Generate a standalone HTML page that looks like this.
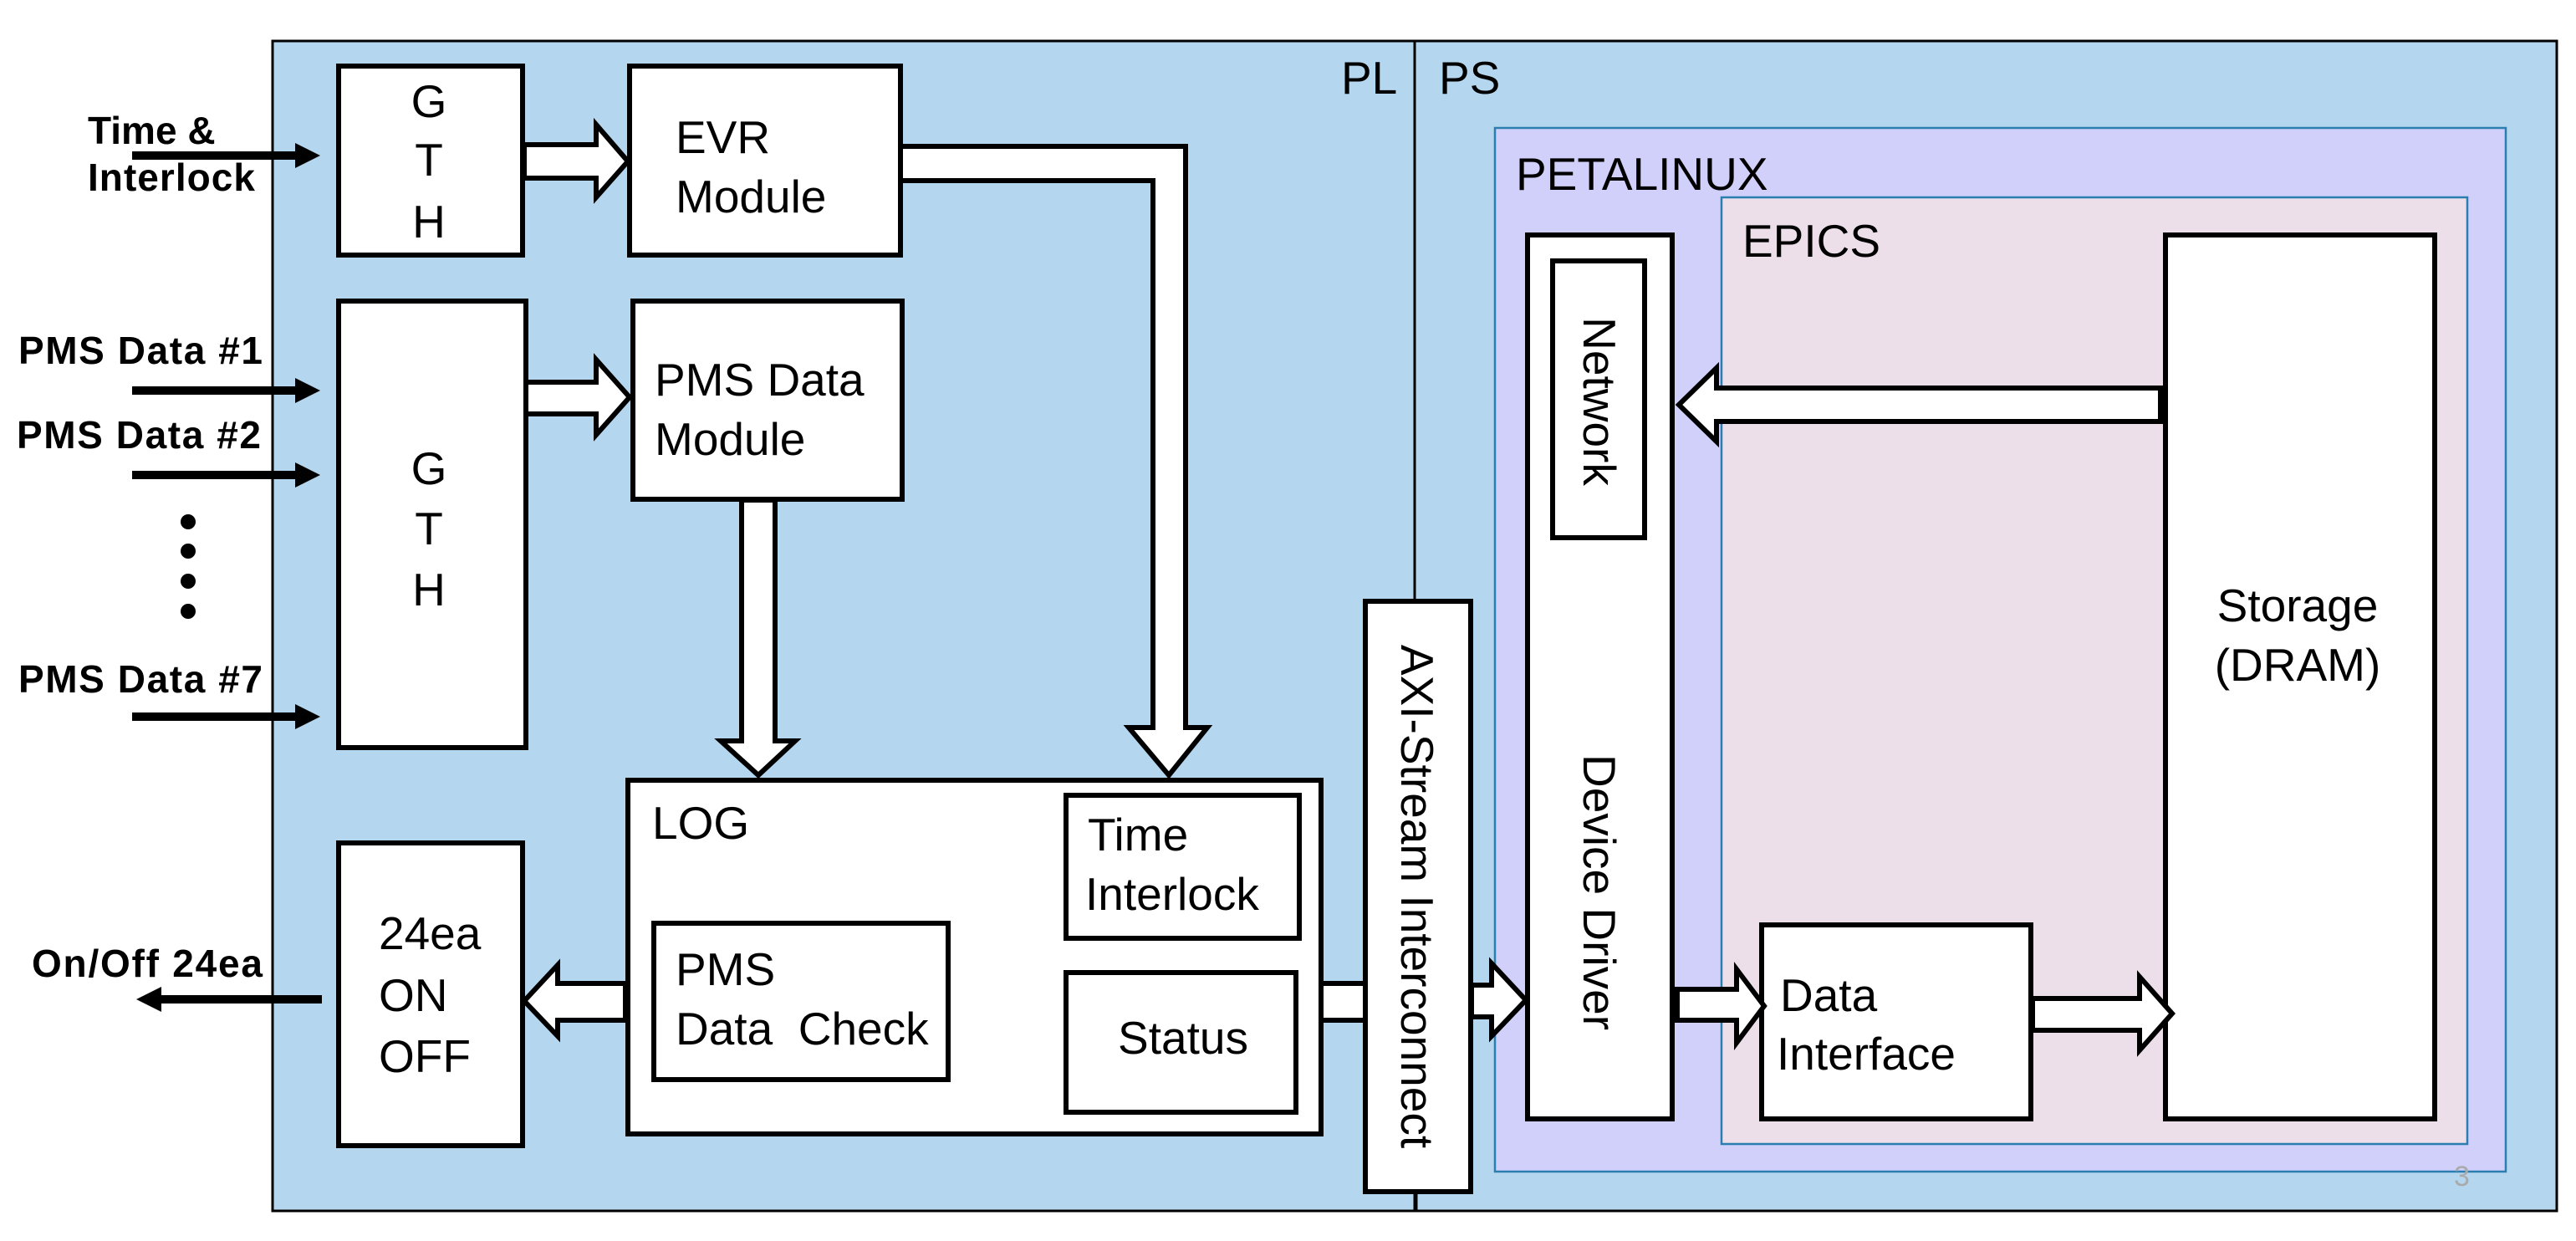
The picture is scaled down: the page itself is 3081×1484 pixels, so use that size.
<!DOCTYPE html>
<html><head><meta charset="utf-8"><style>
html,body{margin:0;padding:0;background:#fff;}
svg{display:block;}
text{font-family:"Liberation Sans",sans-serif;fill:#000;}
.b{font-weight:bold;font-size:46px;}
.t{font-size:55px;}
</style></head><body>
<svg width="3081" height="1484" viewBox="0 0 3081 1484" xmlns="http://www.w3.org/2000/svg">
<rect x="326" y="49" width="2732" height="1399" fill="#b4d7ef" stroke="#000" stroke-width="3"/>
<line x1="1692" y1="49" x2="1692" y2="1448" stroke="#000" stroke-width="3"/>
<text class="t" x="1604" y="112">PL</text>
<text class="t" x="1721" y="112">PS</text>
<rect x="1788" y="153" width="1209" height="1248" fill="#d0d0fa" stroke="#2a7fb0" stroke-width="2.5"/>
<text class="t" x="1813" y="227">PETALINUX</text>
<rect x="2059" y="236" width="892" height="1132" fill="#ecdfea" stroke="#2a7fb0" stroke-width="2.5"/>
<text class="t" x="2084" y="307">EPICS</text>
<text x="2935" y="1418" style="font-size:34px;fill:#aaa">3</text>

<g fill="#fff" stroke="#000" stroke-width="6">
<rect x="405" y="79" width="220" height="226"/>
<rect x="753" y="79" width="324" height="226"/>
<rect x="405" y="360" width="224" height="534"/>
<rect x="757" y="360" width="322" height="237"/>
<rect x="751" y="933" width="829" height="423"/>
<rect x="1275" y="951" width="279" height="171"/>
<rect x="1275" y="1163" width="275" height="167"/>
<rect x="782" y="1104" width="352" height="187"/>
<rect x="405" y="1008" width="220" height="362"/>
<rect x="1633" y="719" width="126" height="706"/>
<rect x="1827" y="281" width="173" height="1057"/>
<rect x="1857" y="312" width="110" height="331"/>
<rect x="2590" y="281" width="322" height="1057"/>
<rect x="2107" y="1106" width="322" height="232"/>
</g>
<line x1="1694" y1="1425" x2="1694" y2="1448" stroke="#000" stroke-width="3"/>

<g fill="#fff" stroke="#000" stroke-width="6" stroke-linejoin="miter">
<polygon points="627,173 713,173 713,149 751,193 713,236 713,213 627,213"/>
<polygon points="629,457 713,457 713,430 753,475 713,520 713,495 629,495"/>
<polygon points="887,598 927,598 927,886 951,886 907,927 862,886 887,886"/>
<polygon points="1077,175 1418,175 1418,870 1444,870 1398,927 1350,870 1379,870 1379,216 1077,216"/>
<polygon points="748,1176 667,1176 667,1154 627,1197 667,1239 667,1220 748,1220"/>
<polygon points="1580,1176 1633,1176 1633,1220 1580,1220"/>
<polygon points="1760,1178 1784,1178 1784,1152 1825,1196 1784,1239 1784,1216 1760,1216"/>
<polygon points="2006,1183 2077,1183 2077,1159 2110,1203 2077,1247 2077,1220 2006,1220"/>
<polygon points="2431,1194 2559,1194 2559,1168 2598,1212 2559,1256 2559,1232 2431,1232"/>
<polygon points="2584,464 2053,464 2053,440 2008,484 2053,528 2053,504 2584,504"/>
</g>

<g stroke="#000" stroke-width="10">
<line x1="158" y1="186" x2="360" y2="186"/>
<line x1="158" y1="467" x2="360" y2="467"/>
<line x1="158" y1="568" x2="360" y2="568"/>
<line x1="158" y1="857" x2="360" y2="857"/>
<line x1="385" y1="1195" x2="185" y2="1195"/>
</g>
<g fill="#000">
<polygon points="353,171 383,186 353,201"/>
<polygon points="353,452 383,467 353,482"/>
<polygon points="353,553 383,568 353,583"/>
<polygon points="353,842 383,857 353,872"/>
<polygon points="193,1180 163,1195 193,1210"/>
<circle cx="225" cy="624" r="9"/><circle cx="225" cy="659" r="9"/>
<circle cx="225" cy="695" r="9"/><circle cx="225" cy="731" r="9"/>
</g>
<text class="b" x="105" y="172">Time &amp;</text>
<text class="b" x="105" y="228" textLength="200">Interlock</text>
<text class="b" x="22" y="435" textLength="292">PMS Data #1</text>
<text class="b" x="20" y="536" textLength="292">PMS Data #2</text>
<text class="b" x="22" y="828" textLength="292">PMS Data #7</text>
<text class="b" x="38" y="1168" textLength="276">On/Off 24ea</text>

<g text-anchor="middle">
<text class="t" x="513" y="140">G</text><text class="t" x="513" y="210">T</text><text class="t" x="513" y="284">H</text>
<text class="t" x="513" y="579">G</text><text class="t" x="513" y="651">T</text><text class="t" x="513" y="724">H</text>
<text class="t" x="1415" y="1260">Status</text>
<text class="t" x="2748" y="743">Storage</text>
<text class="t" x="2748" y="814">(DRAM)</text>
</g>
<text class="t" x="808" y="183">EVR</text>
<text class="t" x="808" y="254">Module</text>
<text class="t" x="783" y="473">PMS Data</text>
<text class="t" x="783" y="544">Module</text>
<text class="t" x="780" y="1003">LOG</text>
<text class="t" x="1301" y="1017">Time</text>
<text class="t" x="1298" y="1088">Interlock</text>
<text class="t" x="808" y="1178">PMS</text>
<text class="t" x="808" y="1249">Data&#160; Check</text>
<text class="t" x="453" y="1135">24ea</text>
<text class="t" x="453" y="1209">ON</text>
<text class="t" x="453" y="1282">OFF</text>
<text class="t" x="2129" y="1209">Data</text>
<text class="t" x="2125" y="1279">Interface</text>
<text class="t" text-anchor="middle" transform="translate(1894,480) rotate(90)">Network</text>
<text class="t" text-anchor="middle" transform="translate(1894,1067) rotate(90)">Device Driver</text>
<text class="t" text-anchor="middle" transform="translate(1676,1072) rotate(90)">AXI-Stream Interconnect</text>
</svg>
</body></html>
